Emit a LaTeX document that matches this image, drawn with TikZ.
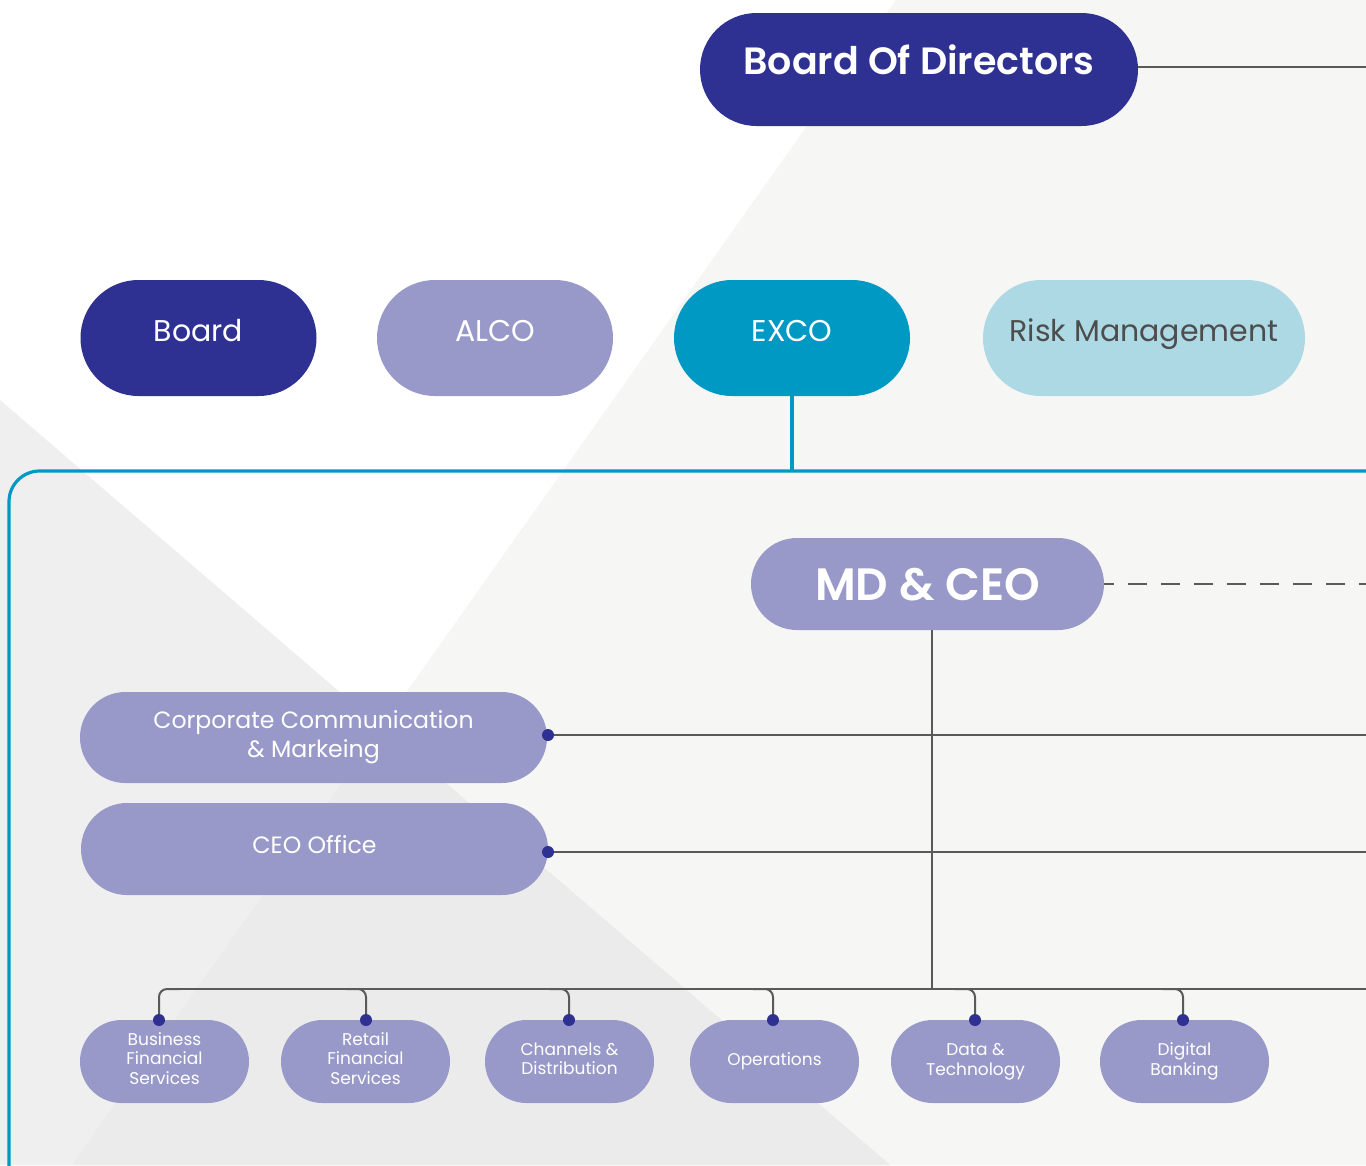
\documentclass[tikz,border=0pt]{standalone}
\usepackage{fontspec}
\setmainfont{Poppins}
\newfontfamily\popsemi{Poppins SemiBold}
\usetikzlibrary{shapes.misc}
\definecolor{navy}{HTML}{2E3192}
\definecolor{lav}{HTML}{9899C8}
\definecolor{tealc}{HTML}{0099C4}
\definecolor{skyc}{HTML}{ADD9E5}
\definecolor{risktext}{HTML}{4D4D4D}
\definecolor{linegray}{HTML}{5A5A5A}
\definecolor{bgright}{HTML}{F6F6F4}
\definecolor{bgleft}{HTML}{EFEFEF}
\definecolor{bgboth}{HTML}{EBEBEB}
\newdimen\px \px=0.75pt
% invisible depth under the last line of a label, lifting the label slightly
\newcommand{\liftby}[1]{\rule[-#1]{0pt}{#1}}
\begin{document}
\begin{tikzpicture}[x=0.75pt,y=-0.75pt,
  pill/.style={rounded rectangle, inner sep=0pt, align=center, text=white},
  toprow/.style={pill, minimum width=236\px, minimum height=116\px,
    font=\fontsize{22.5}{27}\selectfont, text height=18.5pt, text depth=13.5pt},
  unit/.style={pill, fill=lav, minimum width=169\px, minimum height=83\px,
    font=\fontsize{12.75}{14.6}\selectfont},
  conn/.style={draw=linegray, line width=1.5pt},
  branch/.style={conn, rounded corners=6pt},
  dotn/.style={circle, fill=navy, inner sep=0pt, minimum size=12\px},
]
\useasboundingbox (0,0) rectangle (1366,1165);
\clip (0,0) rectangle (1366,1165);

% backdrop planes
\fill[white] (0,0) rectangle (1366,1165);
\fill[bgright] (896,0) -- (1366,0) -- (1366,1165) -- (72,1165) -- cycle;
\fill[bgleft] (0,400) -- (890,1165) -- (0,1165) -- cycle;
\begin{scope}
  \clip (896,0) -- (1366,0) -- (1366,1165) -- (72,1165) -- cycle;
  \fill[bgboth] (0,400) -- (890,1165) -- (0,1165) -- cycle;
\end{scope}

% executive frame
\draw[tealc, line width=2.4pt, rounded corners=23pt] (1420,471) -- (9,471) -- (9,1220);

% board level
\node[pill, fill=navy, minimum width=438\px, minimum height=113\px,
  font=\popsemi\fontsize{28.5}{32}\selectfont, text height=20pt, text depth=12pt]
  (bod) at (919,69.5) {Board Of Directors};
\node[toprow, fill=navy] (board) at (198.5,338) {Board};
\node[toprow, fill=lav] (alco) at (495,338) {ALCO};
\node[toprow, fill=tealc] (exco) at (792,338) {EXCO};
\node[toprow, fill=skyc, text=risktext, minimum width=322\px] (risk) at (1144,338) {Risk Management};

\coordinate (bodR) at (1366,67);
\draw[conn] (bod.east |- bodR) -- (bodR);
\coordinate (frameTop) at (792,471);
\draw[tealc, line width=3pt] (exco.south) -- (frameTop);

% management
\node[pill, fill=lav, minimum width=353\px, minimum height=92\px,
  font=\popsemi\fontsize{34}{40}\selectfont, text height=24.5pt, text depth=0pt]
  (md) at (927.5,584) {MD \& CEO};
\coordinate (mdR) at (1366,584);
\draw[conn, dash pattern=on 19\px off 14\px, dash phase=9\px] (md.east) -- (mdR);

\node[pill, fill=lav, minimum width=467\px, minimum height=91\px,
  font=\fontsize{17.7}{21.75}\selectfont] (corp) at (313.5,737.5)
  {Corporate Communication\\\& Markeing};
\node[pill, fill=lav, minimum width=467\px, minimum height=92\px,
  font=\fontsize{17.7}{21.75}\selectfont, text height=13pt, text depth=7pt]
  (ceo) at (314.5,849) {CEO Office};
\node[dotn] (corpdot) at (548,735) {};
\node[dotn] (ceodot) at (548,852) {};
\coordinate (corpR) at (1366,735);
\coordinate (ceoR) at (1366,852);
\draw[conn] (corpdot) -- (corpR);
\draw[conn] (ceodot) -- (ceoR);

% business units
\node[unit] (bfs) at (164.5,1061.5) {Business\\Financial\\Services\liftby{4.5pt}};
\node[unit] (rfs) at (365.5,1061.5) {Retail\\Financial\\Services\liftby{4.5pt}};
\node[unit] (chd) at (569.5,1061.5) {Channels \&\\Distribution\liftby{4pt}};
\node[unit] (ops) at (774.5,1061.5) {Operations};
\node[unit] (dat) at (975.5,1061.5) {Data \&\\Technology};
\node[unit] (dig) at (1184.5,1061.5) {Digital\\Banking};

\node[dotn] (d1) at (159,1020) {};
\node[dotn] (d2) at (366,1020) {};
\node[dotn] (d3) at (569,1020) {};
\node[dotn] (d4) at (773,1020) {};
\node[dotn] (d5) at (975,1020) {};
\node[dotn] (d6) at (1183,1020) {};

\coordinate (busJ) at (932,989);
\coordinate (busL) at (180,989);
\coordinate (busR) at (1366,989);
\draw[conn] (md.south -| busJ) -- (busJ);
\draw[conn] (busL) -- (busR);
\coordinate (b2) at (346,989);
\coordinate (b3) at (549,989);
\coordinate (b4) at (753,989);
\coordinate (b5) at (955,989);
\coordinate (b6) at (1163,989);
\draw[branch] (busL) -| (d1);
\draw[branch] (b2) -| (d2);
\draw[branch] (b3) -| (d3);
\draw[branch] (b4) -| (d4);
\draw[branch] (b5) -| (d5);
\draw[branch] (b6) -| (d6);
\end{tikzpicture}
\end{document}
